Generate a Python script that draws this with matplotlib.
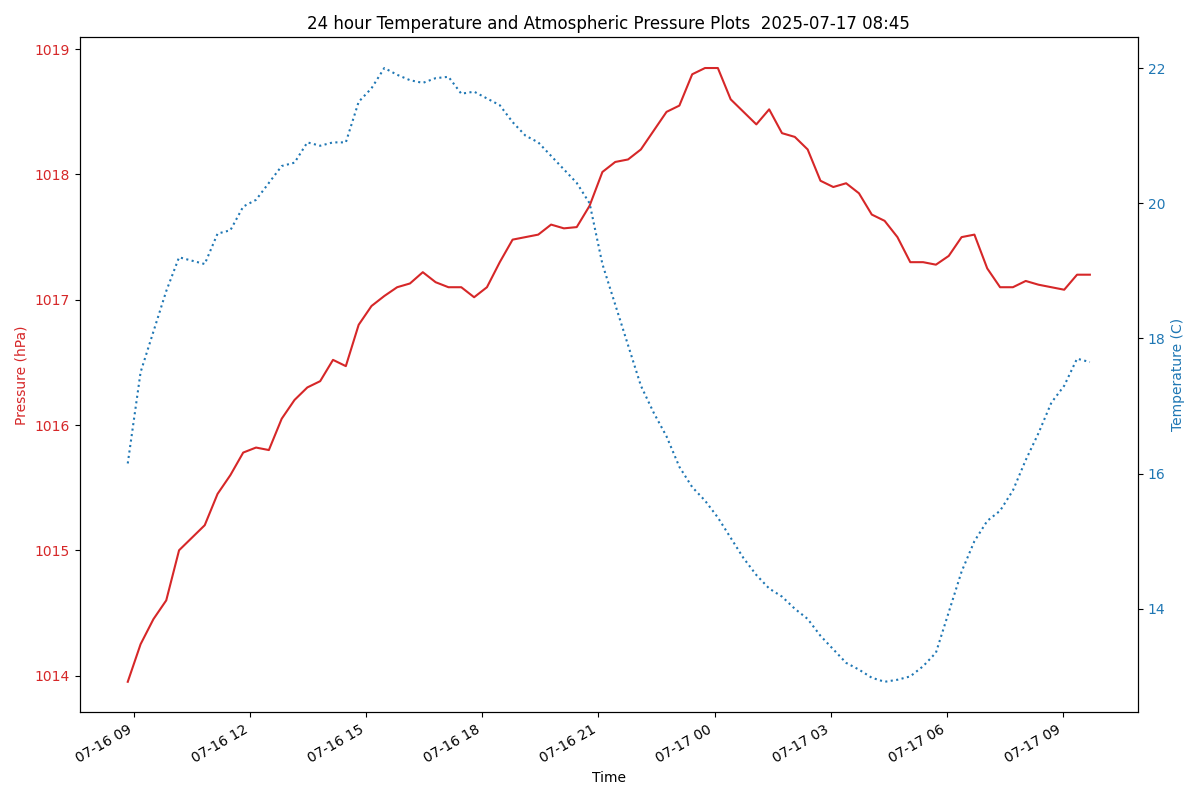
import matplotlib
matplotlib.use("Agg")
import matplotlib.pyplot as plt
import matplotlib.dates as mdates
import pandas as pd

# Sample times (about every 20 minutes)
times = pd.date_range("2025-07-16 08:50", "2025-07-17 09:42", periods=76)

pressure = [
    1013.95, 1014.25, 1014.45, 1014.6, 1015.0, 1015.1, 1015.2, 1015.45, 1015.6, 1015.78,
    1015.82, 1015.8, 1016.05, 1016.2, 1016.3, 1016.35, 1016.52, 1016.47, 1016.8, 1016.95,
    1017.03, 1017.1, 1017.13, 1017.22, 1017.14, 1017.1, 1017.1, 1017.02, 1017.1, 1017.3,
    1017.48, 1017.5, 1017.52, 1017.6, 1017.57, 1017.58, 1017.75, 1018.02, 1018.1, 1018.12,
    1018.2, 1018.35, 1018.5, 1018.55, 1018.8, 1018.85, 1018.85, 1018.6, 1018.5, 1018.4,
    1018.52, 1018.33, 1018.3, 1018.2, 1017.95, 1017.9, 1017.93, 1017.85, 1017.68, 1017.63,
    1017.5, 1017.3, 1017.3, 1017.28, 1017.35, 1017.5, 1017.52, 1017.25, 1017.1, 1017.1,
    1017.15, 1017.12, 1017.1, 1017.08, 1017.2, 1017.2,
]

temperature = [
    16.15, 17.5, 18.1, 18.7, 19.2, 19.15, 19.1, 19.55, 19.6, 19.95,
    20.05, 20.3, 20.55, 20.6, 20.9, 20.85, 20.9, 20.9, 21.5, 21.7,
    22.0, 21.9, 21.82, 21.78, 21.85, 21.87, 21.62, 21.65, 21.55, 21.45,
    21.2, 21.0, 20.9, 20.7, 20.5, 20.3, 20.0, 19.1, 18.5, 17.9,
    17.3, 16.9, 16.55, 16.1, 15.8, 15.6, 15.35, 15.05, 14.75, 14.5,
    14.3, 14.18, 14.0, 13.85, 13.6, 13.4, 13.2, 13.1, 12.98, 12.92,
    12.95, 13.0, 13.15, 13.35, 13.95, 14.55, 15.0, 15.3, 15.45, 15.75,
    16.2, 16.6, 17.05, 17.3, 17.7, 17.65,
]

fig, ax1 = plt.subplots(figsize=(12, 8), dpi=100)

ax1.plot(times, pressure, color="tab:red")
ax1.set_xlabel("Time")
ax1.set_ylabel("Pressure (hPa)", color="tab:red")
ax1.tick_params(axis="y", labelcolor="tab:red")

ax2 = ax1.twinx()
ax2.plot(times, temperature, color="tab:blue", linestyle=":")
ax2.set_ylabel("Temperature (C)", color="tab:blue")
ax2.tick_params(axis="y", labelcolor="tab:blue")

ax1.xaxis.set_major_locator(mdates.HourLocator(byhour=range(0, 24, 3)))
ax1.xaxis.set_major_formatter(mdates.DateFormatter("%m-%d %H"))
fig.autofmt_xdate()

plt.title("24 hour Temperature and Atmospheric Pressure Plots  2025-07-17 08:45")
fig.tight_layout()
fig.savefig("out.png")
